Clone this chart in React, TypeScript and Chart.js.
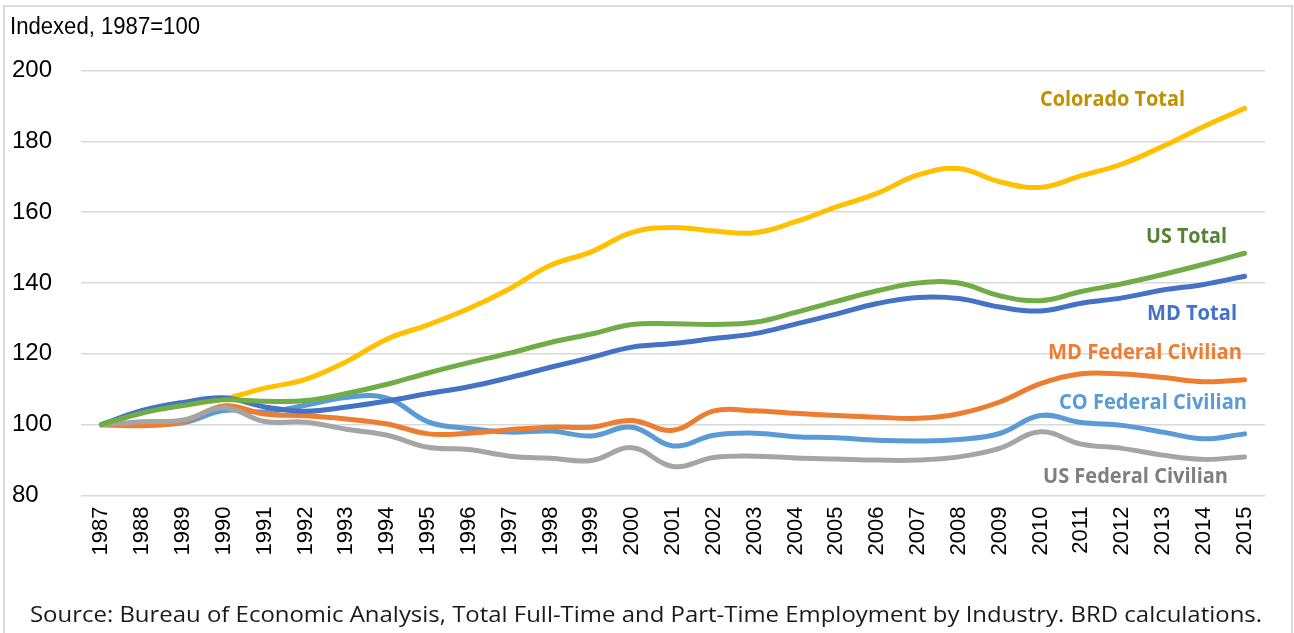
import React, { useEffect, useLayoutEffect, useRef } from "react";
import { Chart, registerables } from "chart.js";

Chart.register(...registerables);

const years: string[] = [
  "1987", "1988", "1989", "1990", "1991", "1992", "1993", "1994", "1995", "1996",
  "1997", "1998", "1999", "2000", "2001", "2002", "2003", "2004", "2005", "2006",
  "2007", "2008", "2009", "2010", "2011", "2012", "2013", "2014", "2015",
];

const coloradoTotal: number[] = [
  100, 103.5, 105.5, 107.3, 110.3, 112.8, 117.8, 124.2, 128.2, 132.8,
  138.4, 145.0, 148.8, 154.3, 155.7, 154.7, 154.2, 157.3, 161.5, 165.3,
  170.5, 172.3, 168.6, 167.0, 170.3, 173.6, 178.6, 184.2, 189.3,
];

const usTotal: number[] = [
  100, 103.3, 105.4, 107.0, 106.6, 106.8, 108.8, 111.4, 114.6, 117.5,
  120.2, 123.2, 125.6, 128.3, 128.5, 128.3, 128.9, 131.7, 134.8, 137.8,
  140.0, 140.0, 136.4, 135.0, 137.6, 139.8, 142.4, 145.3, 148.4,
];

const mdTotal: number[] = [
  100, 104.0, 106.3, 107.6, 105.0, 103.8, 105.0, 106.7, 108.8, 110.7,
  113.3, 116.2, 119.0, 121.9, 122.9, 124.3, 125.7, 128.4, 131.2, 134.2,
  135.9, 135.6, 133.2, 132.1, 134.3, 135.8, 138.0, 139.6, 141.9,
];

const mdFederalCivilian: number[] = [
  100, 99.7, 100.8, 105.3, 103.0, 102.5, 101.6, 100.2, 97.4, 97.6,
  98.6, 99.3, 99.3, 101.2, 98.4, 103.9, 103.9, 103.2, 102.6, 102.1,
  101.8, 103.1, 106.4, 111.6, 114.4, 114.3, 113.3, 112.1, 112.7,
];

const coFederalCivilian: number[] = [
  100, 100.0, 100.5, 104.0, 103.6, 105.5, 107.7, 107.5, 100.8, 98.9,
  97.9, 98.2, 96.8, 99.3, 94.0, 97.0, 97.6, 96.6, 96.3, 95.6,
  95.4, 95.8, 97.5, 102.6, 100.6, 99.8, 97.9, 96.0, 97.4,
];

const usFederalCivilian: number[] = [
  100, 100.8, 101.3, 104.8, 100.9, 100.7, 98.7, 97.0, 93.6, 93.0,
  91.1, 90.5, 89.9, 93.5, 88.2, 90.7, 91.1, 90.6, 90.3, 90.0,
  90.0, 90.9, 93.3, 98.0, 94.5, 93.3, 91.4, 90.2, 90.9,
];

const yTicks: number[] = [80, 100, 120, 140, 160, 180, 200];

const seriesNames: string[] = [
  "Colorado Total",
  "US Total",
  "MD Total",
  "MD Federal Civilian",
  "CO Federal Civilian",
  "US Federal Civilian",
];

const yAxisTitle = "Indexed, 1987=100";
const sourceNote =
  "Source: Bureau of Economic Analysis, Total Full-Time and Part-Time Employment by Industry. BRD calculations.";

type FitProps = {
  text: string;
  left: number;
  cy: number;
  width: number;
  fontSize: number;
  color: string;
  bold?: boolean;
  family: string;
};

function FitText({ text, left, cy, width, fontSize, color, bold, family }: FitProps) {
  const ref = useRef<HTMLSpanElement>(null);
  useLayoutEffect(() => {
    const el = ref.current;
    if (!el) return;
    el.style.transform = "translateY(-50%)";
    const w = el.getBoundingClientRect().width;
    if (w > 0) el.style.transform = `translateY(-50%) scaleX(${width / w})`;
  }, [text, width, fontSize, family]);
  return (
    <span
      ref={ref}
      style={{
        position: "absolute",
        left,
        top: cy,
        whiteSpace: "nowrap",
        transformOrigin: "0 50%",
        fontSize,
        lineHeight: 1,
        fontFamily: family,
        fontWeight: bold ? 700 : 400,
        color,
      }}
    >
      {text}
    </span>
  );
}

export default function App() {
  const canvasRef = useRef<HTMLCanvasElement>(null);

  useEffect(() => {
    const canvas = canvasRef.current;
    if (!canvas) return;
    const mk = (label: string, data: number[], color: string, order: number) => ({
      label,
      data,
      borderColor: color,
      backgroundColor: color,
      borderWidth: 5,
      pointRadius: 0,
      pointHoverRadius: 0,
      tension: 0.4,
      fill: false,
      borderCapStyle: "round" as const,
      borderJoinStyle: "round" as const,
      order,
    });
    const chart = new Chart(canvas, {
      type: "line",
      data: {
        labels: years,
        datasets: [
          mk(seriesNames[0], coloradoTotal, "#FFC000", 6),
          mk(seriesNames[1], usTotal, "#70AD47", 1),
          mk(seriesNames[2], mdTotal, "#4472C4", 3),
          mk(seriesNames[3], mdFederalCivilian, "#ED7D31", 4),
          mk(seriesNames[4], coFederalCivilian, "#5B9BD5", 5),
          mk(seriesNames[5], usFederalCivilian, "#A5A5A5", 2),
        ],
      },
      options: {
        animation: false,
        responsive: false,
        devicePixelRatio: 1,
        layout: { padding: { left: 12, top: 70.5, right: 29, bottom: 67.5 } },
        plugins: {
          legend: { display: false },
          tooltip: { enabled: false },
        },
        scales: {
          x: {
            type: "category",
            offset: true,
            grid: { display: false, drawTicks: false },
            border: { display: false },
            ticks: {
              autoSkip: false,
              minRotation: 90,
              maxRotation: 90,
              padding: 11,
              color: "#000000",
              font: { family: "'Liberation Sans', Arial, sans-serif", size: 22 },
            },
            afterFit: (scale: any) => {
              scale.height = 70;
            },
          },
          y: {
            min: 80,
            max: 200,
            afterBuildTicks: (scale: any) => {
              scale.ticks = yTicks.map((v) => ({ value: v }));
            },
            grid: { color: "#D9D9D9", lineWidth: 1.5, drawTicks: false },
            border: { display: false },
            ticks: {
              crossAlign: "far",
              padding: 0,
              color: "#000000",
              font: { family: "'Liberation Sans', Arial, sans-serif", size: 24 },
            },
            afterFit: (scale: any) => {
              scale.width = 69;
            },
          },
        },
      },
    });
    return () => chart.destroy();
  }, []);

  const labelFont = "'Open Sans', 'Noto Sans', sans-serif";

  return (
    <div
      style={{
        position: "absolute",
        left: 0,
        top: 0,
        width: 1294,
        height: 633,
        overflow: "hidden",
        background: "#ffffff",
      }}
    >
      <div
        style={{
          position: "absolute",
          left: 3,
          top: 5,
          width: 1290,
          height: 700,
          border: "2px solid #D9D9D9",
          boxSizing: "border-box",
        }}
      />
      <canvas
        ref={canvasRef}
        width={1294}
        height={633}
        style={{ position: "absolute", left: 0, top: 0, width: 1294, height: 633 }}
      />
      <FitText text={yAxisTitle} left={10} cy={26} width={190} fontSize={23} color="#000000" family="'Liberation Sans', Arial, sans-serif" />
      <FitText text={seriesNames[0]} left={1040} cy={97} width={145} fontSize={22} color="#BF9000" bold family={labelFont} />
      <FitText text={seriesNames[1]} left={1146} cy={234} width={81} fontSize={22} color="#548235" bold family={labelFont} />
      <FitText text={seriesNames[2]} left={1147} cy={311} width={90} fontSize={22} color="#4472C4" bold family={labelFont} />
      <FitText text={seriesNames[3]} left={1048} cy={350} width={194} fontSize={22} color="#ED7D31" bold family={labelFont} />
      <FitText text={seriesNames[4]} left={1059} cy={400} width={188} fontSize={22} color="#5B9BD5" bold family={labelFont} />
      <FitText text={seriesNames[5]} left={1043} cy={474} width={185} fontSize={22} color="#7F7F7F" bold family={labelFont} />
      <FitText text={sourceNote} left={30} cy={613} width={1232} fontSize={22} color="#1a1a1a" family={labelFont} />
    </div>
  );
}
